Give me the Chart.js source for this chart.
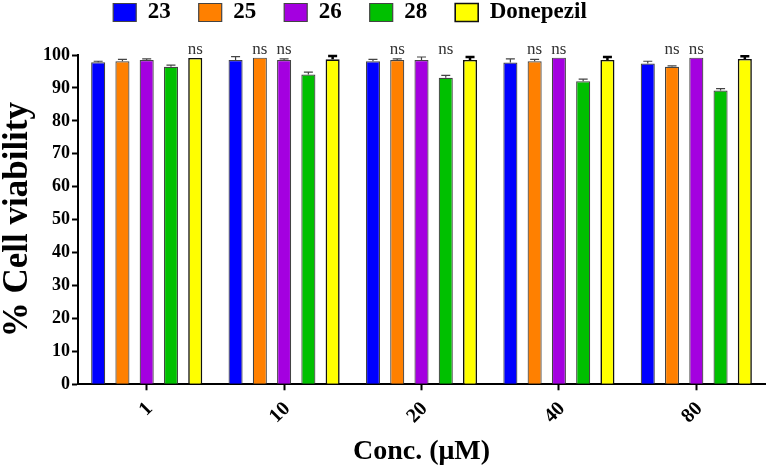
<!DOCTYPE html>
<html>
<head>
<meta charset="utf-8">
<script src="https://cdn.jsdelivr.net/npm/chart.js@4.4.1/dist/chart.umd.min.js"></script>
<style>
  body { margin: 0; background: #fff; }
</style>
</head>
<body>
<canvas id="viabilityChart" width="768" height="469"></canvas>
<script>
const concLabels = ["1", "10", "20", "40", "80"];
const seriesNames = ["23", "25", "26", "28", "Donepezil"];

// mean % viability per concentration
const v23 = [97.8, 98.5, 98.1, 97.7, 97.4];
const v25 = [98.1, 99.2, 98.5, 98.1, 96.4];
const v26 = [98.5, 98.5, 98.5, 99.2, 99.2];
const v28 = [96.4, 94.1, 93.1, 92.0, 89.2];
const vDon = [99.1, 98.7, 98.5, 98.5, 98.8];

// upper error (SD)
const e23 = [0.3, 1.0, 0.6, 1.1, 0.7];
const e25 = [0.6, 0, 0.3, 0.6, 0.3];
const e26 = [0.3, 0.3, 0.9, 0, 0];
const e28 = [0.5, 0.7, 0.7, 0.7, 0.6];
const eDon = [0, 1.0, 0.9, 0.9, 0.8];

// "ns" marks (1 = shown above that bar)
const ns23 = [0, 0, 0, 0, 0];
const ns25 = [0, 1, 1, 1, 1];
const ns26 = [0, 1, 0, 1, 1];
const ns28 = [0, 0, 1, 0, 0];
const nsDon = [1, 0, 0, 0, 0];

const yTicks = [0, 10, 20, 30, 40, 50, 60, 70, 80, 90, 100];

const colors = ["#0000ff", "#ff8000", "#a400e0", "#00c000", "#ffff00"];
const values = [v23, v25, v26, v28, vDon];
const errors = [e23, e25, e26, e28, eDon];
const nsMarks = [ns23, ns25, ns26, ns28, nsDon];

const serif = "'Liberation Serif', 'Times New Roman', serif";

// draws error whiskers and the ns text
const annotPlugin = {
  id: "annot",
  afterLayout(chart) {
    // legend sits a bit higher and left of centre in the original
    const lg = chart.legend;
    lg.top -= 21; lg.bottom -= 21;
    lg.left -= 62;
  },
  afterDatasetsDraw(chart) {
    const ctx = chart.ctx;
    const y = chart.scales.y;
    ctx.save();
    chart.data.datasets.forEach((ds, di) => {
      const meta = chart.getDatasetMeta(di);
      meta.data.forEach((bar, i) => {
        const err = errors[di][i];
        if (err > 0) {
          const top = y.getPixelForValue(values[di][i] + err);
          const base = y.getPixelForValue(values[di][i]);
          ctx.strokeStyle = di === 4 ? "#000" : "#444";
          ctx.lineWidth = di === 4 ? 2.5 : 1.2;
          ctx.beginPath();
          ctx.moveTo(bar.x, base);
          ctx.lineTo(bar.x, top);
          ctx.moveTo(bar.x - 4.5, top);
          ctx.lineTo(bar.x + 4.5, top);
          ctx.stroke();
        }
        if (nsMarks[di][i]) {
          ctx.fillStyle = "#333";
          ctx.font = "17px " + serif;
          ctx.textAlign = "center";
          ctx.textBaseline = "alphabetic";
          ctx.fillText("ns", bar.x, y.getPixelForValue(100.3));
        }
      });
    });
    ctx.restore();
  }
};

new Chart(document.getElementById("viabilityChart"), {
  type: "bar",
  data: {
    labels: concLabels,
    datasets: seriesNames.map((name, i) => ({
      label: name,
      data: values[i],
      backgroundColor: colors[i],
      borderColor: i === 4 ? "#111" : "#444",
      borderWidth: i === 4 ? 1.6 : 1.2,
      barPercentage: 0.58,
      categoryPercentage: 0.883
    }))
  },
  options: {
    responsive: false,
    animation: false,
    layout: { padding: { top: -6, right: 3, left: -3, bottom: 0 } },
    plugins: {
      legend: {
        position: "top",
        labels: {
          boxWidth: 23,
          boxHeight: 18,
          padding: 28,
          color: "#000",
          font: { family: serif, size: 23, weight: "bold" }
        }
      },
      tooltip: { enabled: false }
    },
    scales: {
      x: {
        grid: { offset: false, drawOnChartArea: false, drawTicks: true, tickLength: 6, tickColor: "#000", tickWidth: 2 },
        border: { color: "#000", width: 2 },
        ticks: {
          color: "#000",
          minRotation: 45,
          maxRotation: 45,
          padding: 7,
          labelOffset: 3,
          font: { family: serif, size: 20, weight: "bold" }
        },
        title: {
          display: true,
          text: "Conc. (μM)",
          color: "#000",
          padding: { top: 0, bottom: 0 },
          font: { family: serif, size: 28, weight: "bold" }
        }
      },
      y: {
        min: 0,
        max: 100,
        afterBuildTicks: axis => { axis.ticks = yTicks.map(v => ({ value: v })); },
        grid: { drawOnChartArea: false, drawTicks: true, tickLength: 6, tickColor: "#000", tickWidth: 2 },
        border: { color: "#000", width: 2 },
        ticks: {
          color: "#000",
          padding: 2,
          font: { family: serif, size: 18, weight: "bold" }
        },
        title: {
          display: true,
          text: "% Cell viability",
          color: "#000",
          padding: { top: 0, bottom: 2 },
          font: { family: serif, size: 35, weight: "bold" }
        }
      }
    }
  },
  plugins: [annotPlugin]
});
</script>
</body>
</html>
